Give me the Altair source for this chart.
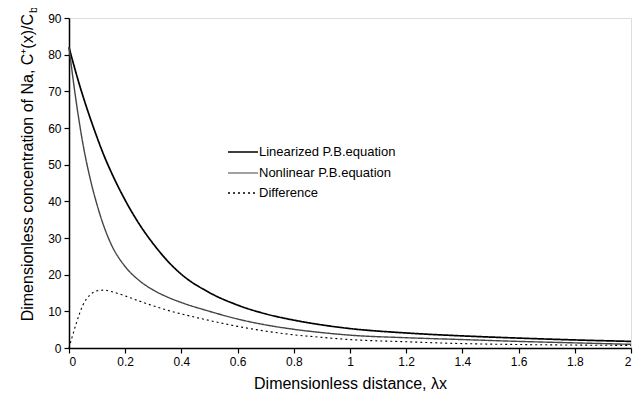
import altair as alt
import pandas as pd

x_vals = [0, 0.025, 0.05, 0.075, 0.1, 0.125, 0.15, 0.2, 0.25, 0.3, 0.35, 0.4,
          0.5, 0.6, 0.7, 0.8, 0.9, 1.0, 1.2, 1.4, 1.6, 1.8, 2.0]
linearized = [82, 75, 68.6, 62.8, 57.4, 52.4, 48, 40.3, 33.8, 28.4, 23.8, 20.1,
              15.1, 11.7, 9.3, 7.6, 6.3, 5.3, 4.1, 3.3, 2.7, 2.2, 1.8]
nonlinear = [82, 67.5, 55.5, 46.3, 39.0, 33.0, 28.3, 22.2, 18.4, 15.8, 13.9, 12.4,
             10.0, 7.9, 6.3, 5.1, 4.2, 3.5, 2.8, 2.3, 1.8, 1.4, 1.0]
difference = [0, 6.5, 11.8, 14.5, 15.6, 15.8, 15.4, 14.2, 12.8, 11.5, 10.3, 9.3,
              7.5, 5.9, 4.6, 3.6, 2.9, 2.3, 1.7, 1.2, 0.95, 0.8, 0.7]
series_names = ["Linearized P.B.equation", "Nonlinear P.B.equation", "Difference"]

rows = []
for name, vals in zip(series_names, [linearized, nonlinear, difference]):
    for xv, yv in zip(x_vals, vals):
        rows.append({"x": xv, "y": yv, "series": name})
df = pd.DataFrame(rows)

FONT = "Liberation Sans"
colors = ["#000000", "#444444", "#000000"]
dashes = [[1, 0], [1, 0], [2, 3]]
widths = [1.7, 1.1, 1.5]

lines = alt.Chart(df).mark_line(interpolate="monotone").encode(
    x=alt.X("x:Q", scale=alt.Scale(domain=[0, 2], nice=False),
            axis=alt.Axis(values=[0, 0.2, 0.4, 0.6, 0.8, 1, 1.2, 1.4, 1.6, 1.8, 2],
                          format="~g", title="Dimensionless distance, λx",
                          grid=False, domainColor="black", domainWidth=1.5,
                          tickColor="black", tickSize=5, tickWidth=1.2,
                          labelFont=FONT, labelFontSize=12, labelColor="black",
                          labelPadding=3, titleFont=FONT, titleFontSize=16,
                          titleFontWeight="normal", titleColor="black",
                          titlePadding=8)),
    y=alt.Y("y:Q", scale=alt.Scale(domain=[0, 90], nice=False),
            axis=alt.Axis(values=list(range(0, 91, 10)), title=None, grid=False,
                          domainColor="black", domainWidth=1.5, tickColor="black",
                          tickSize=5, tickWidth=1.2, labelFont=FONT,
                          labelFontSize=12, labelColor="black", labelPadding=3)),
    color=alt.Color("series:N", sort=series_names,
                    scale=alt.Scale(domain=series_names, range=colors), legend=None),
    strokeDash=alt.StrokeDash("series:N", sort=series_names,
                              scale=alt.Scale(domain=series_names, range=dashes),
                              legend=None),
    strokeWidth=alt.StrokeWidth("series:N", sort=series_names,
                                scale=alt.Scale(domain=series_names, range=widths),
                                legend=None),
)

# manual legend
legend_layers = []
legend_rows_y = [134, 155, 175]
for name, col, dash, w, ly in zip(series_names, colors, dashes, widths, legend_rows_y):
    ldf = pd.DataFrame({"t": [name]})
    sym = alt.Chart(ldf).mark_rule(color=col, strokeDash=dash, strokeWidth=w).encode(
        x=alt.value(159), x2=alt.value(189), y=alt.value(ly))
    lab = alt.Chart(ldf).mark_text(align="left", baseline="middle", font=FONT,
                                   fontSize=13, color="black").encode(
        text="t:N", x=alt.value(190), y=alt.value(ly))
    legend_layers += [sym, lab]

ytitle_df = pd.DataFrame({"t": ["Dimensionless concentration of Na, C⁺(x)/C"]})
ytitle = alt.Chart(ytitle_df).mark_text(
    angle=270, align="right", baseline="middle", font=FONT, fontSize=16,
    color="black").encode(text="t:N", x=alt.value(-41), y=alt.value(-4))

sub_df = pd.DataFrame({"t": ["b"]})
sub = alt.Chart(sub_df).mark_text(
    angle=270, align="left", baseline="middle", font=FONT, fontSize=11,
    color="black").encode(text="t:N", x=alt.value(-35), y=alt.value(-5))

chart = alt.layer(lines, *legend_layers, ytitle, sub).properties(
    width=562, height=330,
    autosize=alt.AutoSizeParams(type="none"),
    padding={"left": 61, "top": 10, "right": 3, "bottom": 54},
).configure_view(stroke=None).configure(background="white")

chart.save("out.html", embed_options={"renderer": "svg", "actions": False})
